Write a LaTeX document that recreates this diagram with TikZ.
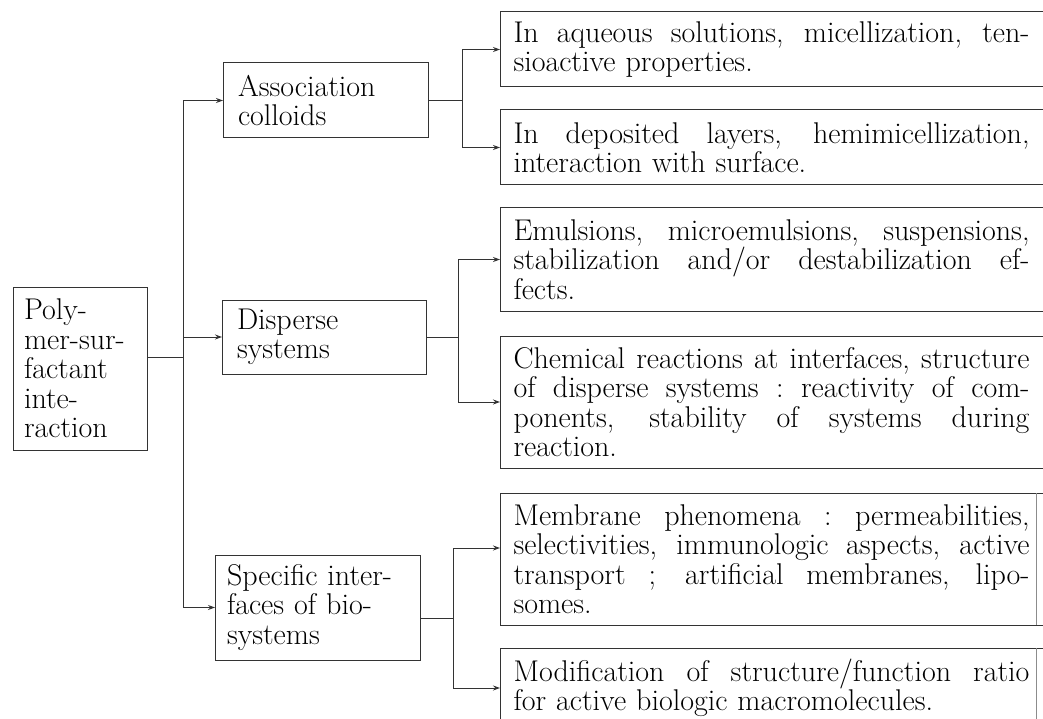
\documentclass[tikz,border=0pt]{standalone}
\usepackage{fontspec}
\usetikzlibrary{arrows.meta,calc}
\newlength\rtw
\setlength\rtw{516pt}
\newcommand{\justline}[1]{\makebox[\rtw][s]{\spaceskip=.3333em plus 1em minus .15em\xspaceskip=\spaceskip #1}\\}
\begin{document}
\begin{tikzpicture}[x=1pt,y=-1pt,
  every node/.style={font=\fontsize{30}{29.5}\selectfont, outer sep=0pt, inner ysep=3pt},
  lbox/.style={draw=black!80, line width=1pt, anchor=north west, align=left},
  rbox/.style={draw=none, anchor=north west, align=left, minimum width=543pt, text width=516pt, inner xsep=12pt},
  ln/.style={draw=black!80, line width=1pt},
  faint/.style={draw=black!45, line width=0.8pt},
  arr/.style={ln, -{Stealth[length=7pt,width=5pt]}}
]
\useasboundingbox (0,0) rectangle (1043,719);
\clip (0,0) rectangle (1043,719);

% first level
\node[lbox, minimum width=134pt, minimum height=163pt, text width=112pt, inner xsep=11pt] (root) at (13,287)
  {Poly-\\mer-sur-\\factant\\inte-\\raction};

% second level
\node[lbox, minimum width=205pt, minimum height=75pt, text width=175pt, inner xsep=15pt] (assoc) at (223,63)
  {Association\\colloids};
\node[lbox, minimum width=204pt, minimum height=74pt, text width=174pt, inner xsep=15pt] (disp) at (222,300)
  {Disperse\\systems};
\node[lbox, minimum width=205pt, minimum height=105pt, text width=181pt, inner xsep=12pt] (spec) at (215,555)
  {Specific inter-\\faces of bio-\\systems};

% third level
\node[rbox, minimum height=75pt] (b1) at (500,12)
  {\justline{In aqueous solutions, micellization, ten-}sioactive properties.};
\node[rbox, minimum height=75pt] (b2) at (500,110)
  {\justline{In deposited layers, hemimicellization,}interaction with surface.};
\node[rbox, minimum height=103pt] (b3) at (500,208)
  {\justline{Emulsions, microemulsions, suspensions,}\justline{stabilization and/or destabilization ef-}fects.};
\node[rbox, minimum height=132pt] (b4) at (500,336)
  {\justline{Chemical reactions at interfaces, structure}\justline{of disperse systems : reactivity of com-}\justline{ponents, stability of systems during}reaction.};
\node[rbox, minimum height=132pt] (b5) at (500,493)
  {\justline{Membrane phenomena : permeabilities,}\justline{selectivities, immunologic aspects, active}\justline{transport ; artificial membranes, lipo-}somes.};
\node[rbox, minimum height=80pt] (b6) at (500,648)
  {\justline{Modification of structure/function ratio}for active biologic macromolecules.};

% open-right frames
\foreach \b in {b1,b2,b3,b4,b5,b6}
  \draw[ln] (\b.north east) -- (\b.north west) -- (\b.south west) -- (\b.south east);
\draw[faint] ([xshift=-7pt]b5.north east) -- ([xshift=-7pt]b5.south east);
\draw[faint] ([xshift=-7pt]b6.north east) -- ([xshift=-7pt]b6.south east);

% connectors: root to second level
\coordinate (tr) at (183,0);
\coordinate (rx) at ([yshift=11pt]root.east);
\draw[ln] (rx) -- (rx -| tr);
\draw[ln] (tr |- assoc.west) -- (tr |- spec.west);
\draw[arr] (tr |- assoc.west) -- (assoc.west);
\draw[arr] (tr |- disp.west) -- (disp.west);
\draw[arr] (tr |- spec.west) -- (spec.west);

% association branch
\coordinate (ax) at (462,0);
\draw[ln] (assoc.east) -- (assoc.east -| ax);
\draw[ln] (ax |- b1.west) -- (ax |- b2.west);
\draw[arr] (ax |- b1.west) -- (b1.west);
\draw[arr] (ax |- b2.west) -- (b2.west);

% disperse branch
\coordinate (dx) at (458,0);
\draw[ln] (disp.east) -- (disp.east -| dx);
\draw[ln] (dx |- b3.west) -- (dx |- b4.west);
\draw[arr] (dx |- b3.west) -- (b3.west);
\draw[arr] (dx |- b4.west) -- (b4.west);

% specific branch
\coordinate (sx) at (453,0);
\coordinate (se) at ([yshift=-11pt]spec.east);
\coordinate (b5a) at ([yshift=11pt]b5.west);
\draw[ln] (se) -- (se -| sx);
\draw[ln] (sx |- b5a) -- (sx |- b6.west);
\draw[arr] (sx |- b5a) -- (b5a);
\draw[arr] (sx |- b6.west) -- (b6.west);
\end{tikzpicture}
\end{document}
